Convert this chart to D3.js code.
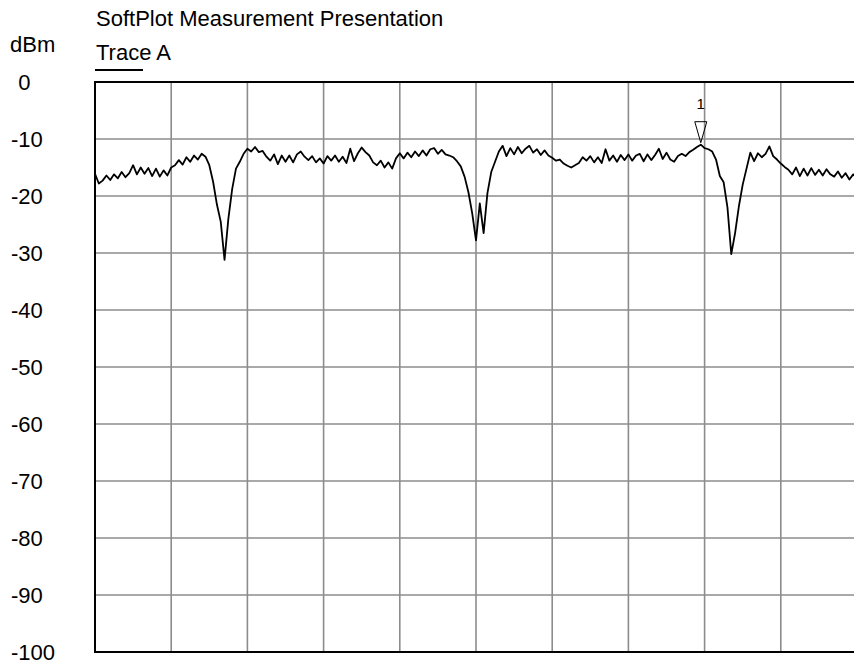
<!DOCTYPE html>
<html>
<head>
<meta charset="utf-8">
<script src="https://cdn.jsdelivr.net/npm/d3@7"></script>
<style>
  body { margin: 0; background: #fff; }
  text { font-family: "Liberation Sans", Arial, sans-serif; fill: #000; }
</style>
</head>
<body>
<div id="chart"></div>
<script>
// Trace A, one value (dBm) every 0.05 division across the 10 divisions
const traceA = [
  -16.1, -17.8, -17.3, -16.4, -17.2, -16.2, -16.9, -15.8, -16.7, -16.0,
  -14.6, -16.2, -15.0, -16.1, -15.1, -16.5, -15.2, -16.6, -15.5, -16.4,
  -15.0, -14.6, -13.7, -14.5, -13.2, -14.0, -12.9, -13.6, -12.6, -13.1,
  -14.6, -17.5, -21.5, -24.5, -31.2, -24.0, -18.8, -15.2, -14.0, -12.6,
  -11.7, -12.2, -11.4, -12.3, -12.1, -13.1, -13.8, -12.7, -14.4, -12.9,
  -14.0, -12.9, -14.1, -12.7, -12.2, -13.1, -13.7, -13.0, -14.1, -13.4,
  -14.3, -13.0, -13.8, -12.9, -14.0, -13.1, -14.2, -11.7, -13.9, -12.5,
  -11.5, -12.3, -12.9, -14.1, -14.6, -13.8, -15.0, -14.1, -15.2, -13.4,
  -12.5, -13.4, -12.4, -13.2, -12.2, -13.0, -12.0, -12.9, -11.8, -11.6,
  -12.6, -11.9, -12.7, -12.9, -13.2, -13.9, -14.8, -16.6, -19.3, -23.0,
  -27.8, -21.3, -26.5, -19.5, -15.8, -14.0, -12.2, -11.2, -13.0, -11.6,
  -12.7, -11.4, -12.5, -11.7, -11.2, -12.4, -11.8, -12.8, -12.0, -12.9,
  -13.3, -13.8, -13.6, -14.3, -14.7, -15.0, -14.6, -14.2, -13.2, -13.8,
  -13.0, -14.1, -13.2, -14.2, -11.8, -13.8, -12.9, -14.0, -12.8, -13.7,
  -12.7, -13.8, -12.9, -12.6, -13.9, -12.7, -13.7, -12.8, -11.7, -13.5,
  -12.4, -13.6, -14.0, -13.0, -12.6, -13.0, -12.3, -11.9, -11.4, -11.0,
  -11.6, -11.8, -12.2, -13.6, -16.5, -17.6, -22.0, -30.2, -26.5, -21.8,
  -18.0, -15.2, -12.4, -13.9, -12.5, -13.2, -12.6, -11.3, -13.0, -13.6,
  -14.3, -14.9, -15.4, -16.2, -15.0, -16.5, -15.2, -16.4, -15.1, -16.3,
  -15.4, -16.4, -15.3, -16.2, -16.6, -15.7, -16.8, -16.0, -17.1, -16.2,
  -16.9
];
const xStep = 0.05;
const yTicks = [0, -10, -20, -30, -40, -50, -60, -70, -80, -90, -100];
const xDivisions = [0, 1, 2, 3, 4, 5, 6, 7, 8, 9, 10];
const markerIndex = 159;
const markerLabel = "1";

const width = 854;
const height = 665;
const plot = { left: 95, top: 82, width: 762, height: 570 };

const svg = d3.select("#chart")
  .append("svg")
  .attr("width", width)
  .attr("height", height);

const x = d3.scaleLinear().domain([0, 10]).range([plot.left, plot.left + plot.width]);
const y = d3.scaleLinear().domain([-100, 0]).range([plot.top + plot.height, plot.top]);

// Grid
svg.append("g")
  .selectAll("line")
  .data(xDivisions.slice(1, -1))
  .enter()
  .append("line")
  .attr("x1", d => x(d)).attr("x2", d => x(d))
  .attr("y1", y(0)).attr("y2", y(-100))
  .attr("stroke", "#8c8c8c")
  .attr("stroke-width", 1.6);

svg.append("g")
  .selectAll("line")
  .data(yTicks.slice(1, -1))
  .enter()
  .append("line")
  .attr("x1", x(0)).attr("x2", x(10))
  .attr("y1", d => y(d)).attr("y2", d => y(d))
  .attr("stroke", "#8c8c8c")
  .attr("stroke-width", 1.6);

// Frame
svg.append("rect")
  .attr("x", x(0)).attr("y", y(0))
  .attr("width", x(10) - x(0))
  .attr("height", y(-100) - y(0))
  .attr("fill", "none")
  .attr("stroke", "#000")
  .attr("stroke-width", 2);

// Y tick labels, left aligned with a slot for the minus sign
svg.append("g")
  .selectAll("text")
  .data(yTicks)
  .enter()
  .append("text")
  .attr("x", 11)
  .attr("dx", d => d < 0 ? 0 : "0.333em")
  .attr("y", d => y(d))
  .attr("dy", "0.36em")
  .style("font-size", "22px")
  .text(d => d);

// Unit
svg.append("text")
  .attr("x", 10)
  .attr("y", 52)
  .style("font-size", "22px")
  .text("dBm");

// Titles
svg.append("text")
  .attr("x", 96)
  .attr("y", 26)
  .style("font-size", "22px")
  .text("SoftPlot Measurement Presentation");

svg.append("text")
  .attr("x", 96)
  .attr("y", 60)
  .style("font-size", "22px")
  .text("Trace A");

svg.append("line")
  .attr("x1", 95).attr("x2", 143)
  .attr("y1", 70).attr("y2", 70)
  .attr("stroke", "#000")
  .attr("stroke-width", 2);

// Trace
const line = d3.line()
  .x((d, i) => x(i * xStep))
  .y(d => y(d));

svg.append("path")
  .datum(traceA)
  .attr("d", line)
  .attr("fill", "none")
  .attr("stroke", "#000")
  .attr("stroke-width", 1.8)
  .attr("stroke-linejoin", "round");

// Marker 1
const mx = x(markerIndex * xStep);
const my = y(traceA[markerIndex]) - 2;
svg.append("path")
  .attr("d", `M${mx - 6},${my - 21}L${mx + 6},${my - 21}L${mx},${my}Z`)
  .attr("fill", "none")
  .attr("stroke", "#000")
  .attr("stroke-width", 1);

svg.append("text")
  .attr("x", mx)
  .attr("y", my - 34)
  .attr("text-anchor", "middle")
  .style("font-size", "15px")
  .text(markerLabel);
</script>
</body>
</html>
